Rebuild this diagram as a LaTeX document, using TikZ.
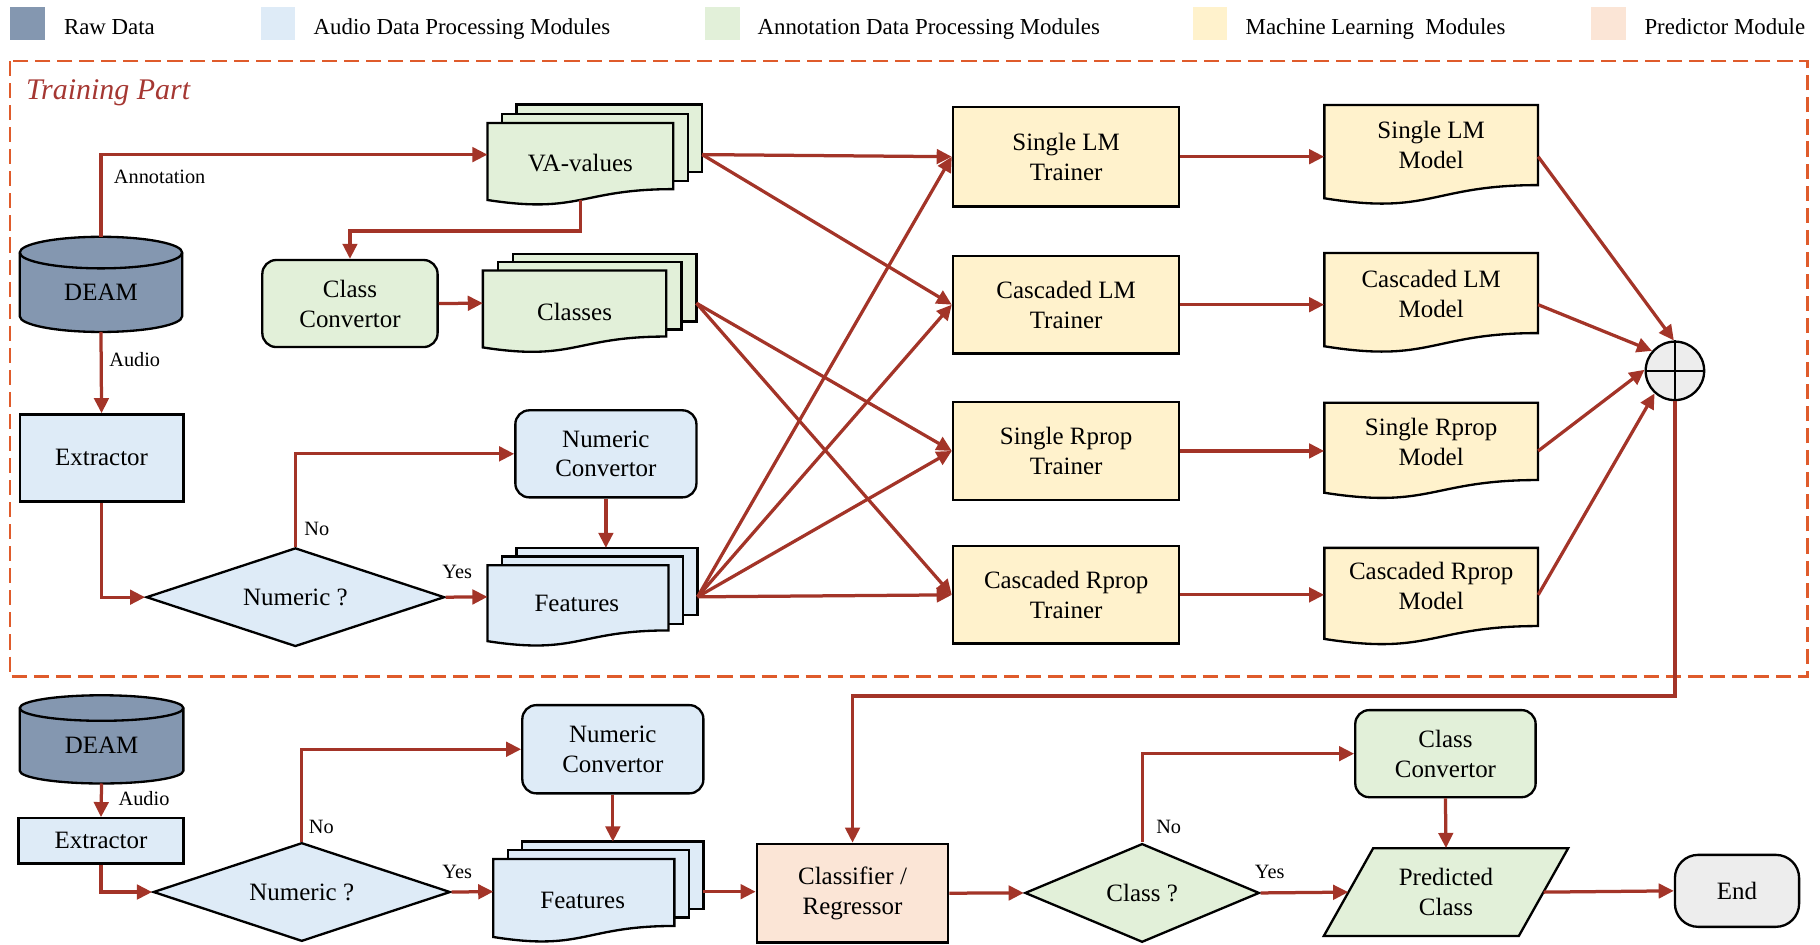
\documentclass[tikz,border=0pt]{standalone}
\usepackage{fontspec}
\setmainfont{Liberation Serif}
\usetikzlibrary{arrows.meta,shapes.geometric,calc}

\definecolor{rawc}{RGB}{132,151,176}
\definecolor{audioc}{RGB}{222,235,247}
\definecolor{annoc}{RGB}{226,240,217}
\definecolor{mlc}{RGB}{255,242,204}
\definecolor{predc}{RGB}{251,229,214}
\definecolor{endc}{RGB}{237,237,237}
\definecolor{flow}{RGB}{163,52,40}
\definecolor{frame}{RGB}{223,91,43}
\definecolor{titlec}{RGB}{165,55,50}

\newcommand\nodefont{\fontsize{21.5}{25.8}\selectfont}
\newcommand\lblfont{\fontsize{17.5}{21}\selectfont}
\newcommand\legfont{\fontsize{19.7}{23}\selectfont}
\newcommand\bw{2pt}

% document shape: flat top, wavy lower edge
\newcommand\flowdoc[5]{% fill, left x, top y, width, height
  \filldraw[fill=#1, draw=black, line width=\bw]
    (#2,#3) -- ({#2+#4},#3) -- ({#2+#4},{#3+0.802*#5})
    .. controls ({#2+0.5*#4},{#3+0.802*#5}) and ({#2+0.5*#4},{#3+1.1075*#5}) .. (#2,{#3+0.934*#5}) -- cycle;}

% stack of three pages, the front one a document shape
\newcommand\flowstack[7]{% fill, front left x, front top y, width, height, step x, step y
  \filldraw[fill=#1, draw=black, line width=\bw] ({#2+2*(#6)},{#3+2*(#7)}) rectangle ++(#4,58);
  \filldraw[fill=#1, draw=black, line width=\bw] ({#2+(#6)},{#3+(#7)}) rectangle ++(#4,58);
  \flowdoc{#1}{#2}{#3}{#4}{#5}}

% database cylinder
\newcommand\flowcyl[5]{% left x, right x, top y, bottom y, half height of the end ellipses
  \pgfmathsetmacro\cylcx{(#1+#2)/2}%
  \pgfmathsetmacro\cylkx{0.5523*(#2-#1)/2}%
  \pgfmathsetmacro\cylky{0.5523*#5}%
  \filldraw[fill=rawc, draw=black, line width=\bw]
    (#1,{#3+#5}) -- (#1,{#4-#5})
    .. controls (#1,{#4-#5+\cylky}) and ({\cylcx-\cylkx},#4) .. (\cylcx,#4)
    .. controls ({\cylcx+\cylkx},#4) and (#2,{#4-#5+\cylky}) .. (#2,{#4-#5})
    -- (#2,{#3+#5})
    .. controls (#2,{#3+#5-\cylky}) and ({\cylcx+\cylkx},#3) .. (\cylcx,#3)
    .. controls ({\cylcx-\cylkx},#3) and (#1,{#3+#5-\cylky}) .. (#1,{#3+#5}) -- cycle;
  \draw[line width=\bw]
    (#1,{#3+#5}) .. controls (#1,{#3+#5+\cylky}) and ({\cylcx-\cylkx},{#3+2*#5}) .. (\cylcx,{#3+2*#5})
    .. controls ({\cylcx+\cylkx},{#3+2*#5}) and (#2,{#3+#5+\cylky}) .. (#2,{#3+#5});}

\begin{document}
\begin{tikzpicture}[x=1pt,y=-1pt,
  shp/.style={draw=black, line width=\bw, inner sep=0pt, align=center, font=\nodefont},
  trainer/.style={shp, fill=mlc, minimum width=195pt, minimum height=84pt},
  conv/.style={shp, rounded corners=12pt, minimum width=156pt, minimum height=75pt},
  decision/.style={shp, diamond, aspect=3, minimum height=85pt},
  hit/.style={inner sep=0pt, outer sep=0pt},
  txt/.style={inner sep=0pt, align=center, font=\nodefont},
  lbl/.style={inner sep=0pt, anchor=base west, font=\lblfont},
  legtxt/.style={inner sep=0pt, anchor=base west, font=\legfont},
  arr/.style={draw=flow, line width=2.8pt, -{Triangle[length=13pt,width=12.5pt]}},
]
\useasboundingbox (0,0) rectangle (1568,813.3);

% legend
\fill[rawc] (8.5,6.3) rectangle (38.5,34.5);
\node[legtxt] (lg1) at (55,29.5) {Raw Data};
\fill[audioc] (225,6.3) rectangle (254.5,34.5);
\node[legtxt] (lg2) at (270,29.5) {Audio Data Processing Modules};
\fill[annoc] (607.6,6.3) rectangle (637.5,34.5);
\node[legtxt] (lg3) at (652.5,29.5) {Annotation Data Processing Modules};
\fill[mlc] (1028,6.3) rectangle (1057,34.5);
\node[legtxt] (lg4) at (1073,29.5) {Machine Learning~ Modules};
\fill[predc] (1371,6.3) rectangle (1401,34.5);
\node[legtxt] (lg5) at (1416.6,29.5) {Predictor Module};

% training frame
\draw[frame, line width=2.3pt, dash pattern=on 13pt off 6pt] (8.5,52.6) rectangle (1557,583);
\node[inner sep=0pt, anchor=base west, font=\fontsize{25.8}{30}\selectfont\itshape, text=titlec] (title) at (22.4,86) {Training Part};

% ---------- training part ----------
\flowcyl{17}{157}{204}{286}{13.6}
\node[hit, minimum width=140pt, minimum height=82pt] (deam) at (87,245) {};
\node[txt] (deamt) at (87,252) {DEAM};

\node[shp, fill=audioc, minimum width=141pt, minimum height=75pt] (ext) at (87.5,394.5) {Extractor};
\node[decision, fill=audioc, minimum width=257pt] (num) at (254.5,514.5) {Numeric ?};
\node[conv, fill=audioc] (nc) at (522,391) {Numeric\\Convertor};
\flowstack{audioc}{420}{487}{156}{70}{12.5}{-7.5}
\node[hit, minimum width=181pt, minimum height=84.3pt] (feat) at (510.5,514.2) {};
\node[txt] (featt) at (497,519.6) {Features};

\flowstack{annoc}{420}{106}{160}{71}{12.5}{-8}
\node[hit, minimum width=185pt, minimum height=86.3pt] (va) at (512.5,133.2) {};
\node[txt] (vat) at (500,140.5) {VA-values};
\coordinate (vaout) at (500,172);
\node[conv, fill=annoc, minimum width=151pt] (cc) at (301.5,261.5) {Class\\Convertor};
\flowstack{annoc}{416}{233}{158}{71}{13}{-7}
\node[hit, minimum width=184pt, minimum height=84.3pt] (cls) at (508,261.2) {};
\node[txt] (clst) at (495,268.5) {Classes};

% trainers
\node[trainer, minimum height=86pt] (slt) at (918.5,135) {Single LM\\Trainer};
\node[trainer] (clt) at (918.5,262.5) {Cascaded LM\\Trainer};
\node[trainer] (srt) at (918.5,388.5) {Single Rprop\\Trainer};
\node[trainer] (crt) at (918.5,512.5) {Cascaded Rprop\\Trainer};

% trained models
\flowdoc{mlc}{1141}{90.5}{184}{86}
\node[txt, minimum width=184pt] (slm) at (1233,125) {Single LM\\Model};
\flowdoc{mlc}{1141}{218}{184}{86}
\node[txt, minimum width=184pt] (clm) at (1233,253) {Cascaded LM\\Model};
\flowdoc{mlc}{1141}{347}{184}{83}
\node[txt, minimum width=184pt] (srm) at (1233,381) {Single Rprop\\Model};
\flowdoc{mlc}{1141}{472}{184}{84}
\node[txt, minimum width=184pt] (crm) at (1233,505) {Cascaded Rprop\\Model};

% combiner
\node[circle, draw=black, fill=endc, line width=\bw, minimum size=50.4pt, inner sep=0pt] (sum) at (1443,319.5) {};
\draw[line width=\bw] (sum.north) -- (sum.south) (sum.west) -- (sum.east);

% training connectors
\draw[arr] (deam.north) |- (va.west);
\node[lbl] (lann) at (98,158) {Annotation};
\draw[arr] (vaout) -- ++(0,27) -| (cc.north);
\draw[arr] (cc.east) -- (cls.west);
\draw[arr] (deam.south) -- (ext.north);
\node[lbl] (laud) at (94,316) {Audio};
\draw[arr] (ext.south) |- (num.west);
\draw[arr] (num.north) |- (nc.west);
\node[lbl] (lno) at (262,461) {No};
\draw[arr] (num.east) -- (feat.west);
\node[lbl] (lyes) at (381,498.5) {Yes};
\draw[arr] (nc.south) -- (nc.south |- feat.north);

\foreach \t in {slt,clt} \draw[arr] (va.east) -- (\t.west);
\foreach \t in {srt,crt} \draw[arr] (cls.east) -- (\t.west);
\foreach \t in {slt,clt,srt,crt} \draw[arr] (feat.east) -- (\t.west);

\draw[arr] (slt.east) -- (slt.east -| slm.west);
\draw[arr] (clt.east) -- (clt.east -| clm.west);
\draw[arr] (srt.east) -- (srt.east -| srm.west);
\draw[arr] (crt.east) -- (crt.east -| crm.west);

\draw[arr] (slt.east -| slm.east) -- (sum.92);
\draw[arr] (clt.east -| clm.east) -- (sum.139);
\draw[arr] (srt.east -| srm.east) -- (sum.178);
\draw[arr] (crt.east -| crm.east) -- (sum.228);

% ---------- prediction part ----------
\flowcyl{17}{158}{599}{675}{11}
\node[hit, minimum width=141pt, minimum height=76pt] (deam2) at (87.5,637) {};
\node[txt] (deam2t) at (87.5,642) {DEAM};
\node[shp, fill=audioc, minimum width=142pt, minimum height=39pt] (ext2) at (87,724.5) {Extractor};
\node[decision, fill=audioc, minimum width=256pt] (num2) at (260,768.5) {Numeric ?};
\node[conv, fill=audioc, minimum height=76pt] (nc2) at (528,645.5) {Numeric\\Convertor};
\flowstack{audioc}{425}{740}{156}{72}{12.5}{-7.5}
\node[hit, minimum width=181pt, minimum height=86.3pt] (feat2) at (515.5,768.2) {};
\node[txt] (feat2t) at (502,775.5) {Features};
\node[shp, fill=predc, minimum width=165pt, minimum height=85pt] (clf) at (734.5,769.5) {Classifier /\\Regressor};
\node[decision, fill=annoc, minimum width=202pt] (cq) at (984,769.3) {Class ?};
\node[conv, fill=annoc, minimum width=155.4pt] (cc2) at (1245.3,649.3) {Class\\Convertor};
\filldraw[fill=annoc, draw=black, line width=\bw] (1183,730.8) -- (1351,730.8) -- (1308.5,806.4) -- (1140.5,806.4) -- cycle;
\node[txt, minimum width=168pt, minimum height=75.6pt] (pc) at (1245.75,768.6) {Predicted\\Class};
\node[shp, fill=endc, rounded corners=20pt, minimum width=107pt, minimum height=62pt] (stop) at (1496.5,767.5) {End};

% prediction connectors
\draw[arr] (deam2.south) -- (ext2.north);
\node[lbl] (laud2) at (102,694) {Audio};
\draw[arr] (ext2.south) |- (num2.west);
\draw[arr] (num2.north) |- (nc2.west);
\node[lbl] (lno2) at (266,718) {No};
\draw[arr] (num2.east) -- (feat2.west);
\node[lbl] (lyes2) at (381,757) {Yes};
\draw[arr] (nc2.south) -- (nc2.south |- feat2.north);
\draw[arr] (feat2.east) -- (feat2.east -| clf.west);
\draw[arr] (sum.south) -- ++(0,254) -| (clf.north);
\draw[arr] (clf.east) -- (cq.west);
\draw[arr] (cq.north) |- (cc2.west);
\node[lbl] (lno3) at (996,718) {No};
\draw[arr] (cc2.south) -- (pc.north);
\draw[arr] (cq.east) -- (pc.west);
\node[lbl] (lyes3) at (1081,757) {Yes};
\draw[arr] (pc.east) -- (stop.west);
\end{tikzpicture}
\end{document}
